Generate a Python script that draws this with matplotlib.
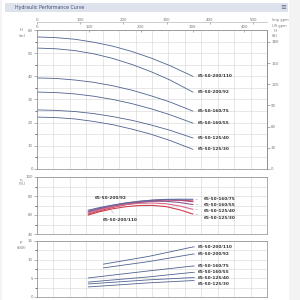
import numpy as np
import matplotlib.pyplot as plt
from matplotlib.patches import Rectangle

# pump models
models = ["65-50-200/110", "65-50-200/92", "65-50-160/75",
          "65-50-160/55", "65-50-125/40", "65-50-125/30"]

# head curves, H (m) vs Q (m3/h)
q_head = [0, 10, 20, 30, 40, 50, 60, 70, 82]
head = [
    [57.0, 56.7, 56.0, 54.7, 53.0, 50.7, 47.9, 44.6, 40.0],
    [52.2, 51.9, 51.1, 49.7, 47.7, 45.1, 42.0, 38.4, 33.2],
    [39.3, 39.1, 38.4, 37.4, 35.9, 34.0, 31.6, 28.9, 25.0],
    [33.2, 33.0, 32.4, 31.4, 30.0, 28.2, 26.0, 23.4, 19.8],
    [25.5, 25.3, 24.8, 23.9, 22.6, 21.0, 19.0, 16.7, 13.4],
    [22.4, 22.2, 21.6, 20.5, 19.1, 17.2, 15.0, 12.3, 8.5],
]

# efficiency curves (%)
q_eff = [27, 33, 40, 47, 54, 61, 68, 75, 82]
eff = [
    [61, 64.5, 68, 71, 73.3, 75, 75.8, 75.6, 74.8],
    [64, 67, 70, 72.5, 74.3, 75.5, 76, 75.5, 74],
    [65, 67.8, 70.5, 72.8, 74.5, 75.7, 76.4, 76.6, 76.5],
    [63, 66.3, 69.3, 71.7, 73.4, 74.4, 74.4, 73.2, 71],
    [62, 65.5, 68.7, 71, 72.3, 72.6, 71.8, 69.5, 66],
    [60, 63.5, 66.6, 68.8, 70, 70.1, 68.8, 65.5, 61],
]
eff_colors = ["#c8465f", "#b04a80", "#5a6fa0", "#8a5a90", "#d86a8a", "#d0404f"]
eff_right_labels = [77, 70.5, 64, 57]   # label heights for the four small models

# shaft power (kW)
q_pow = [
    [35, 59, 82], [35, 59, 82],
    [27, 59, 82], [27, 59, 82], [27, 59, 82], [27, 59, 82],
]
power = [
    [8.8, 10.9, 13.4],
    [7.8, 9.5, 11.5],
    [5.1, 7.0, 8.3],
    [4.0, 5.4, 6.6],
    [3.5, 4.6, 5.2],
    [2.7, 3.8, 4.4],
]
pow_labels = [13.4, 11.5, 8.3, 6.8, 5.1, 3.5]

QMAX = 121
grid_x = np.linspace(0, QMAX, 15)
line_col = "#4f6290"
txt_col = "#333333"
tick_col = "#777777"
fs = 3.1
tfs = 2.9

fig = plt.figure(figsize=(3, 3), dpi=100, facecolor="#f3f3f3")
fig.patches.append(Rectangle((0.008, 0), 0.955, 1, transform=fig.transFigure,
                             facecolor="white", edgecolor="none", zorder=-10))
fig.patches.append(Rectangle((0.017, 0.96), 0.943, 0.03, transform=fig.transFigure,
                             facecolor="#dde2ec", edgecolor="none", zorder=-9))
fig.text(0.05, 0.975, "Hydraulic Performance Curve", fontsize=3.4,
         color="#3a4f7a", va="center")
fig.text(0.945, 0.975, "≡", fontsize=5, color="#556688", va="center", ha="center")


def style(ax, ylim, ymajor, yminor):
    ax.set_xlim(0, QMAX)
    ax.set_ylim(*ylim)
    ax.set_xticks(grid_x)
    ax.set_xticklabels([])
    ax.tick_params(axis="x", length=0)
    ax.set_yticks(yminor, minor=True)
    ax.set_yticks(ymajor)
    ax.tick_params(axis="y", labelsize=tfs, colors=tick_col, length=2, width=0.4,
                   pad=1)
    ax.tick_params(axis="y", which="minor", length=1.2, width=0.4)
    ax.grid(True, which="both", color="#d4d4d4", lw=0.4)
    ax.set_axisbelow(True)
    ax.set_facecolor("white")
    for s in ax.spines.values():
        s.set_color("#888888")
        s.set_linewidth(0.5)


# --- head ---
ax1 = fig.add_axes([0.1233, 0.4367, 0.7667, 0.4633])
style(ax1, (0, 60), np.arange(0, 61, 10), np.arange(0, 61, 5))
for name, h in zip(models, head):
    ax1.plot(q_head, h, color=line_col, lw=0.6)
    ax1.text(q_head[-1] + 2.5, h[-1], name, fontsize=fs, fontweight="bold",
             color=txt_col, va="center")
fig.text(0.07, 0.897, "H", fontsize=tfs, color=tick_col, ha="center")
fig.text(0.073, 0.878, "(m)", fontsize=tfs, color=tick_col, ha="center")

axr = ax1.secondary_yaxis("right", functions=(lambda m: m / 0.3048,
                                               lambda f: f * 0.3048))
axr.set_yticks(np.arange(0, 181, 30))
axr.tick_params(labelsize=tfs, colors=tick_col, length=2, width=0.4, pad=1)
axr.spines["right"].set_color("#888888")
axr.spines["right"].set_linewidth(0.5)
fig.text(0.912, 0.895, "H", fontsize=tfs, color=tick_col, va="center")
fig.text(0.905, 0.88, "(ft)", fontsize=tfs, color=tick_col, va="center")

top1 = ax1.secondary_xaxis(1.054, functions=(lambda q: q * 4.40,
                                              lambda g: g / 4.40))
top1.set_xticks(np.arange(0, 501, 100))
top2 = ax1.secondary_xaxis(1.0, functions=(lambda q: q * 3.666,
                                            lambda g: g / 3.666))
top2.set_xticks(np.arange(0, 401, 100))
for t in (top1, top2):
    t.tick_params(labelsize=tfs, colors=tick_col, length=1.5, width=0.4, pad=0.5,
                  direction="in")
    t.spines["top"].set_color("#aaaaaa")
    t.spines["top"].set_linewidth(0.4)
fig.text(0.905, 0.935, "Imp gpm", fontsize=tfs - 0.3, color=tick_col, va="center")
fig.text(0.905, 0.912, "US gpm", fontsize=tfs - 0.3, color=tick_col, va="center")

# --- efficiency ---
ax2 = fig.add_axes([0.1233, 0.22, 0.7667, 0.19])
style(ax2, (40, 100), np.arange(40, 101, 20), np.arange(40, 101, 10))
for i, (name, e) in enumerate(zip(models, eff)):
    ax2.plot(q_eff, e, color=eff_colors[i], lw=0.8)
ax2.annotate(models[1], xy=(52, eff[1][4] - 0.5), xytext=(30.5, 78), fontsize=fs,
             fontweight="bold", color=txt_col, va="center",
             arrowprops=dict(arrowstyle="-", color="#999999", lw=0.3))
ax2.annotate(models[0], xy=(38, eff[0][2] - 1), xytext=(34.5, 54.5), fontsize=fs,
             fontweight="bold", color=txt_col, va="center",
             arrowprops=dict(arrowstyle="-", color="#999999", lw=0.3))
for i, ly in zip(range(2, 6), eff_right_labels):
    ax2.annotate(models[i], xy=(q_eff[-1], eff[i][-1]), xytext=(87.5, ly),
                 fontsize=fs, fontweight="bold", color=txt_col, va="center",
                 arrowprops=dict(arrowstyle="-", color="#999999", lw=0.3))
fig.text(0.07, 0.397, "η", fontsize=tfs, color=tick_col, ha="center")
fig.text(0.073, 0.382, "(%)", fontsize=tfs, color=tick_col, ha="center")

# --- power ---
ax3 = fig.add_axes([0.1233, 0.01, 0.7667, 0.1867])
style(ax3, (0, 15), np.arange(0, 16, 5), np.arange(0, 15.1, 2.5))
for name, q, p, ly in zip(models, q_pow, power, pow_labels):
    ax3.plot(q, p, color=line_col, lw=0.6)
    ax3.annotate(name, xy=(q[-1], p[-1]), xytext=(84.5, ly), fontsize=fs,
                 fontweight="bold", color=txt_col, va="center",
                 arrowprops=dict(arrowstyle="-", color=line_col, lw=0.4))
fig.text(0.07, 0.187, "P", fontsize=tfs, color=tick_col, ha="center")
fig.text(0.073, 0.17, "(kW)", fontsize=tfs, color=tick_col, ha="center")

fig.savefig("out.png", dpi=100, facecolor=fig.get_facecolor())
